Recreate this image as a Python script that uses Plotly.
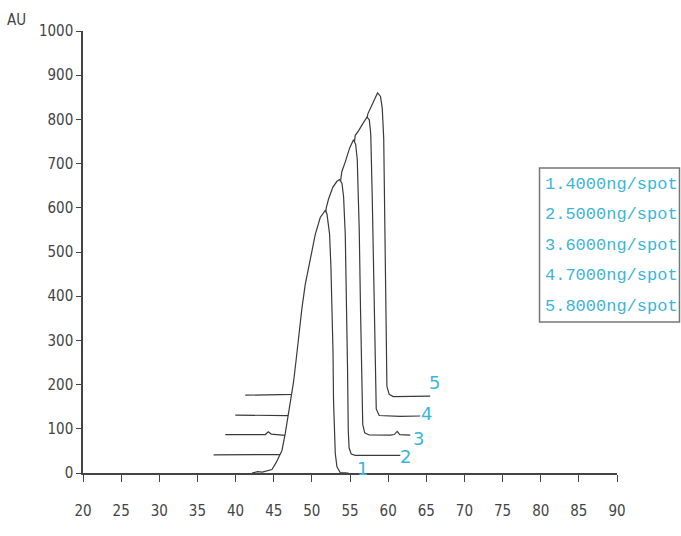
import plotly.graph_objects as go

# ---- data (x = position, y = AU) ----
x1 = [42.15, 42.9, 43.5, 43.89, 44.77, 45.33, 46.08, 46.51, 46.95, 47.39, 47.60, 47.96, 48.26, 48.70,
      49.13, 49.79, 50.45, 51.10, 51.76, 51.98, 52.32, 52.50, 52.63, 52.77, 52.84, 53.07, 53.29, 53.72, 54.8]
y1 = [0, 3, 2, 4, 8, 24, 51, 89, 134, 176, 206, 259, 312, 373,
      426, 487, 540, 578, 594, 586, 541, 466, 391, 277, 164, 44, 14, 1, 0]

x2 = [37.12, 41.93, 46.08, 48.5, 51.0, 51.89, 52.19, 52.76, 53.29, 53.63, 53.95, 54.16, 54.38, 54.48,
      54.60, 54.68, 54.77, 54.88, 55.16, 55.69, 58.31, 61.59]
y2 = [41, 42, 41.7, 50, 450, 600, 620, 647, 660, 664, 655, 625, 539, 460,
      347, 233, 98, 57, 43, 40, 40, 40]

x3 = [38.65, 43.89, 44.29, 44.68, 46.51, 49.0, 53.0, 53.92, 54.38, 54.97, 55.46, 55.75, 55.95, 56.21,
      56.38, 56.54, 56.67, 56.93, 57.52, 60.27, 60.80, 61.19, 61.52, 62.90]
y3 = [87, 87, 93, 88, 85, 95, 560, 681, 704, 736, 754, 743, 709, 551,
      370, 189, 110, 91, 86, 85.5, 87, 94, 87, 85.6]

x4 = [39.96, 46.74, 49.3, 54.5, 55.69, 56.12, 56.70, 57.22, 57.53, 57.72, 57.92, 58.11, 58.31, 58.44,
      58.83, 61.59, 64.21]
y4 = [131, 130, 140, 600, 764, 774, 791, 805, 799, 767, 620, 417, 213, 145,
      130, 128, 129]

x5 = [41.27, 47.47, 49.6, 56.2, 57.33, 57.65, 58.18, 58.61, 59.0, 59.23, 59.42, 59.55, 59.69, 59.84,
      60.14, 60.67, 65.52]
y5 = [176, 178, 188, 700, 812, 824, 847, 860, 852, 825, 757, 531, 327, 196,
      178, 173, 174]

curve_numbers = ["1", "2", "3", "4", "5"]
number_x = [56.6, 62.24, 63.94, 64.99, 66.04]
number_y = [11, 37, 77, 134, 205]

legend_labels = ["1.4000ng/spot", "2.5000ng/spot", "3.6000ng/spot", "4.7000ng/spot", "5.8000ng/spot"]

x_ticks = [20, 25, 30, 35, 40, 45, 50, 55, 60, 65, 70, 75, 80, 85, 90]
y_ticks = [0, 100, 200, 300, 400, 500, 600, 700, 800, 900, 1000]

# ---- styling ----
INK = "#3a3a3a"
CYAN = "#3db5d6"
TICKFONT = dict(family="Liberation Sans Narrow, DejaVu Sans Condensed, DejaVu Sans Mono, monospace",
                size=15, color="#444444")

fig = go.Figure()

# back (5) to front (1); white fill hides the hidden parts of curves behind
curves = [(x5, y5), (x4, y4), (x3, y3), (x2, y2), (x1, y1)]
for xs, ys in curves:
    fig.add_trace(go.Scatter(
        x=xs, y=ys, mode="lines",
        line=dict(color=INK, width=1.2),
        fill="tozeroy", fillcolor="white",
        hoverinfo="skip", showlegend=False,
    ))

annotations = []
for lab, xv, yv in zip(curve_numbers, number_x, number_y):
    annotations.append(dict(
        x=xv, y=yv, xref="x", yref="y", text=lab, showarrow=False,
        font=dict(family="DejaVu Sans, Liberation Sans", size=18, color=CYAN),
        xanchor="center", yanchor="middle",
    ))

legend_rows_y = [0.6538, 0.5848, 0.5158, 0.4468, 0.3778]
for lab, yp in zip(legend_labels, legend_rows_y):
    annotations.append(dict(
        x=0.8605, y=yp, xref="paper", yref="paper", text=lab, showarrow=False,
        font=dict(family="Liberation Mono, Courier New, monospace", size=17, color=CYAN),
        xanchor="left", yanchor="middle",
    ))

annotations.append(dict(
    x=-0.1245, y=1.0249, xref="paper", yref="paper", text="AU", showarrow=False,
    font=TICKFONT, xanchor="center", yanchor="middle",
))

fig.update_layout(
    width=681, height=536,
    margin=dict(l=83, r=64, t=31, b=63, pad=0),
    paper_bgcolor="white", plot_bgcolor="white",
    annotations=annotations,
    shapes=[dict(type="rect", xref="paper", yref="paper",
                 x0=0.8549, x1=1.117, y0=0.3416, y1=0.690,
                 line=dict(color="#777777", width=1.5))],
    xaxis=dict(range=[20, 90], tickvals=x_ticks, ticks="outside", ticklen=7, tickwidth=1.3,
               tickcolor="#444444", showline=True, linecolor="#444444", linewidth=1.5,
               showgrid=False, zeroline=False, tickfont=TICKFONT, ticklabelstandoff=16,
               automargin=False),
    yaxis=dict(range=[0, 1000], tickvals=y_ticks, ticks="outside", ticklen=5, tickwidth=1.3,
               tickcolor="#444444", showline=True, linecolor="#444444", linewidth=1.5,
               showgrid=False, zeroline=False, tickfont=TICKFONT, automargin=False),
)

fig.write_html("out.html", config={"displayModeBar": False},
               post_script="document.body.style.margin='0';document.body.style.overflow='hidden';")
